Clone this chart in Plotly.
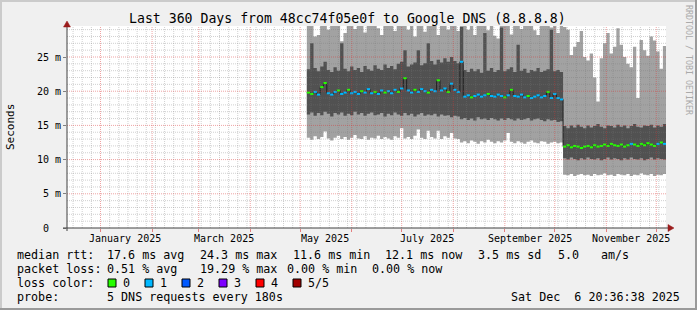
import plotly.graph_objects as go
from datetime import datetime, timedelta

# ---------------- data (ms) ----------------
FIRST_BIN = datetime(2025, 5, 5)   # first consolidated bin
BIN_DAYS = 2
T_END = datetime(2025, 12, 6, 20, 36, 38)
T_START = T_END - timedelta(days=360)

median = [
    19.8, 19.6, 19.9, 19.5, 20.6, 21.2, 19.7, 19.5, 19.9, 20.1,
    19.6, 19.8, 20.2, 19.7, 19.9, 19.6, 20.0, 19.8, 20.3, 19.7,
    19.9, 19.6, 20.1, 19.8, 20.0, 19.7, 20.2, 19.9, 20.4, 21.9,
    20.1, 19.8, 20.2, 19.9, 20.3, 20.0, 19.8, 20.2, 20.0, 21.6,
    20.1, 20.4, 19.9, 21.1, 20.2, 19.9, 24.3, 19.2, 19.4, 19.1,
    19.3, 19.5, 19.2, 19.4, 19.6, 19.3, 19.2, 19.5, 19.3, 19.1,
    19.4, 20.2, 19.3, 19.2, 19.5, 19.1, 19.3, 19.0, 19.2, 19.4,
    19.1, 19.3, 19.9, 19.0, 19.6, 19.0, 18.8, 11.9, 12.1, 11.8,
    12.0, 11.9, 11.7, 11.9, 12.0, 11.8, 12.1, 11.9, 12.0, 12.2,
    12.0, 12.3, 12.1, 12.0, 12.2, 11.9, 12.1, 12.3, 12.2, 12.0,
    12.3, 12.1, 12.4, 12.2, 12.0, 12.3, 12.5, 12.3,
]
loss = [
    0, 0, 1, 1, 0, 0, 1, 1, 1, 0,
    1, 1, 0, 1, 1, 1, 0, 1, 1, 1,
    0, 1, 1, 0, 1, 1, 1, 0, 1, 0,
    1, 1, 0, 1, 1, 1, 0, 1, 1, 0,
    1, 1, 0, 1, 1, 1, 1, 1, 1, 0,
    1, 1, 1, 1, 0, 1, 1, 1, 1, 0,
    1, 0, 1, 1, 1, 1, 0, 1, 1, 1,
    1, 1, 0, 1, 1, 1, 1, 0, 0, 0,
    0, 0, 0, 0, 0, 0, 0, 0, 0, 0,
    0, 0, 0, 0, 0, 0, 0, 1, 0, 0,
    0, 0, 0, 0, 0, 1, 0, 1,
]
p4 = [
    23.2, 27.0, 23.4, 22.9, 23.6, 24.3, 23.1, 22.8, 23.5, 23.0,
    27.0, 23.3, 22.9, 23.6, 23.1, 23.4, 22.8, 23.7, 23.2, 23.0,
    23.8, 23.3, 23.1, 23.9, 23.4, 23.7, 23.2, 24.0, 24.3, 26.0,
    23.6, 23.9, 24.2, 26.0, 23.8, 24.1, 27.0, 24.4, 23.9, 24.6,
    24.2, 24.8, 24.3, 25.0, 24.4, 24.1, 29.4, 23.1, 22.8, 23.3,
    22.9, 23.2, 22.7, 28.5, 23.0, 23.4, 22.8, 23.1, 29.3, 22.9,
    23.2, 23.5, 22.8, 26.8, 23.0, 23.3, 22.7, 23.1, 22.9, 23.4,
    22.8, 23.0, 23.2, 29.0, 22.9, 23.1, 22.8, 14.9, 14.6, 15.0,
    14.7, 15.1, 14.8, 14.6, 15.0, 14.7, 14.9, 15.2, 14.8, 14.6,
    15.0, 14.9, 14.7, 15.1, 14.8, 15.0, 14.6, 14.9, 15.2, 14.8,
    14.7, 15.0, 14.9, 15.1, 14.7, 15.0, 14.8, 15.2,
]
p2 = [
    16.6, 16.9, 16.4, 16.8, 16.5, 17.0, 16.7, 16.3, 16.8, 16.6,
    16.9, 16.4, 16.7, 16.5, 17.0, 16.6, 16.8, 16.4, 16.7, 16.9,
    16.5, 16.6, 16.8, 16.3, 16.7, 16.5, 16.9, 16.6, 16.4, 16.8,
    16.5, 16.7, 16.3, 16.6, 16.8, 16.4, 16.6, 16.5, 16.7, 16.3,
    16.6, 16.4, 16.5, 16.2, 16.4, 16.3, 15.9, 16.1, 15.8, 16.0,
    15.7, 16.2, 15.9, 16.0, 15.8, 16.1, 15.9, 15.7, 16.0, 15.8,
    16.1, 15.9, 15.7, 16.0, 15.8, 15.9, 16.1, 15.7, 15.9, 16.0,
    15.8, 15.6, 15.9, 15.7, 15.8, 15.5, 15.6, 10.2, 10.0, 10.3,
    10.1, 9.9, 10.2, 10.0, 10.3, 10.1, 10.0, 10.2, 9.9, 10.1,
    10.3, 10.0, 10.2, 10.1, 9.9, 10.2, 10.0, 10.3, 10.1, 10.0,
    10.2, 9.9, 10.1, 10.3, 10.0, 10.2, 10.1, 10.0,
]
mins = [
    13.2, 12.9, 13.4, 13.0, 13.3, 14.1, 13.1, 12.8, 13.2, 13.5,
    13.0, 13.3, 12.9, 13.2, 13.6, 13.1, 13.0, 13.4, 12.9, 13.2,
    13.1, 13.5, 13.0, 13.3, 13.1, 12.9, 13.4, 13.2, 14.6, 13.1,
    13.3, 13.0, 13.5, 14.4, 13.2, 13.0, 14.2, 13.3, 13.1, 14.2,
    13.0, 13.4, 13.2, 13.9, 13.1, 13.0, 12.5, 12.7, 12.4, 12.8,
    12.6, 12.3, 12.7, 12.5, 12.9, 12.6, 12.4, 12.7, 12.5, 12.8,
    13.9, 12.6, 12.4, 12.7, 12.5, 12.3, 12.6, 12.8, 12.5, 12.4,
    12.7, 12.6, 12.3, 12.5, 12.6, 12.4, 12.5, 7.8, 7.7, 7.9,
    7.6, 7.8, 7.9, 7.7, 7.8, 7.6, 7.9, 7.7, 7.8, 8.0,
    7.7, 7.8, 7.6, 7.9, 7.8, 7.7, 7.9, 7.6, 7.8, 7.7,
    8.0, 7.8, 7.7, 7.9, 7.6, 7.8, 7.7, 7.9,
]
maxs = [
    29.6, 29.6, 28.0, 28.2, 29.6, 29.6, 29.0, 29.6, 29.6, 29.6,
    27.3, 28.5, 29.6, 29.6, 29.1, 29.6, 29.6, 28.6, 29.6, 29.6,
    29.6, 29.2, 28.2, 29.6, 29.6, 29.6, 28.8, 29.6, 29.6, 29.6,
    29.0, 29.6, 28.0, 29.6, 29.6, 28.7, 29.6, 29.6, 29.6, 28.2,
    29.6, 29.6, 29.0, 29.6, 29.6, 28.8, 29.6, 29.6, 29.0, 29.6,
    28.2, 29.6, 29.6, 29.6, 28.9, 29.6, 28.1, 27.7, 29.6, 29.6,
    29.6, 28.3, 29.6, 29.6, 29.1, 29.6, 29.6, 29.6, 28.9, 28.2,
    29.6, 29.6, 29.6, 29.3, 29.6, 28.5, 29.6, 29.4, 29.0, 25.3,
    26.5, 27.2, 28.8, 25.0, 24.5, 25.5, 22.0, 18.5, 24.8, 27.0,
    28.5, 25.5, 26.5, 29.2, 26.8, 25.0, 24.0, 23.5, 26.5, 19.0,
    27.5, 26.0, 25.2, 28.0, 27.4, 25.8, 23.3, 26.6,
]

y_ticks = [0, 5, 10, 15, 20, 25]
y_ticktext = ["0\u00a0\u00a0", "5 m", "10 m", "15 m", "20 m", "25 m"]
x_label_months = [(2025, 1, "January 2025"), (2025, 3, "March 2025"), (2025, 5, "May 2025"),
                  (2025, 7, "July 2025"), (2025, 9, "September 2025"), (2025, 11, "November 2025")]
loss_colors = ["#26ff00", "#00b8ff", "#0059ff", "#7e00ff", "#ff0000", "#a10000"]
loss_labels = ["0", "1", "2", "3", "4", "5/5"]

# ---------------- geometry ----------------
W, H = 697, 310
ML, MR, MT, MB = 67, 31, 26, 82
PW, PH = W - ML - MR, H - MT - MB
MS_PER_PX = 6.84
Y_TOP = PH / MS_PER_PX
FONT = "DejaVu Sans Mono"


def pxx(x):
    return (x - ML) / PW


def pxy(y):
    return (H - MB - y) / PH


n = len(median)
starts = [FIRST_BIN + timedelta(days=BIN_DAYS * i) for i in range(n)]
edges = starts + [starts[-1] + timedelta(days=BIN_DAYS)]


def stepped(vals):
    return edges, list(vals) + [vals[-1]]


fig = go.Figure()


def band(lo, hi, color):
    x, y = stepped(lo)
    fig.add_trace(go.Scatter(x=x, y=y, mode="lines", line=dict(width=0, shape="hv"),
                             hoverinfo="skip", showlegend=False))
    x, y = stepped(hi)
    fig.add_trace(go.Scatter(x=x, y=y, mode="lines", line=dict(width=0, shape="hv"),
                             fill="tonexty", fillcolor=color, hoverinfo="skip", showlegend=False))


band(mins, maxs, "#a2a2a2")
band(p2, p4, "#515151")

# thin dark median line underneath
x, y = stepped(median)
fig.add_trace(go.Scatter(x=x, y=y, mode="lines", line=dict(width=1, color="#202020", shape="hv"),
                         hoverinfo="skip", showlegend=False))

# coloured median dashes by loss (one horizontal dash per bin)
for L, col in enumerate(loss_colors):
    xs, ys = [], []
    for k in range(n):
        if loss[k] == L:
            xs += [starts[k], edges[k + 1], None]
            ys += [median[k], median[k], None]
    if xs:
        fig.add_trace(go.Scatter(x=xs, y=ys, mode="lines", line=dict(width=2, color=col),
                                 connectgaps=False, hoverinfo="skip", showlegend=False))

shapes = []
MINOR = dict(color="rgba(120,120,120,0.35)", width=1, dash="1px,1px")
MAJOR = dict(color="rgba(220,50,50,0.45)", width=1, dash="1px,1px")

month_starts = [datetime(2025, m, 1) for m in range(1, 13)]
MINOR_STEP = timedelta(hours=132)
anchor = datetime(2025, 1, 1)
g = anchor
while g - MINOR_STEP > T_START:
    g -= MINOR_STEP
while g < T_END:
    if all(abs((g - m).total_seconds()) > 86400 for m in month_starts):
        shapes.append(dict(type="line", xref="x", yref="paper", x0=g, x1=g, y0=0, y1=1,
                           line=MINOR, layer="above"))
    g += MINOR_STEP
for v in range(1, 30):
    if v % 5:
        shapes.append(dict(type="line", xref="paper", yref="y", x0=0, x1=1, y0=v, y1=v,
                           line=MINOR, layer="above"))
for d in month_starts:
    shapes.append(dict(type="line", xref="x", yref="paper", x0=d, x1=d, y0=0, y1=1,
                       line=MAJOR, layer="above"))
for v in y_ticks[1:]:
    shapes.append(dict(type="line", xref="paper", yref="y", x0=0, x1=1, y0=v, y1=v,
                       line=MAJOR, layer="above"))

# axes lines + arrows
AX = "#404040"
ARROW = "#9b1c1c"
shapes.append(dict(type="line", xref="paper", yref="paper", x0=pxx(63), x1=pxx(668),
                   y0=pxy(228), y1=pxy(228), line=dict(color=AX, width=1), layer="above"))
shapes.append(dict(type="line", xref="paper", yref="paper", x0=pxx(67), x1=pxx(67),
                   y0=pxy(231), y1=pxy(25), line=dict(color=AX, width=1), layer="above"))


def tri(pts, color):
    p = "M " + " L ".join(f"{pxx(a):.5f},{pxy(b):.5f}" for a, b in pts) + " Z"
    return dict(type="path", xref="paper", yref="paper", path=p, fillcolor=color,
                line=dict(color=color, width=0.5), layer="above")


shapes.append(tri([(63.5, 27), (70.5, 27), (67, 21)], ARROW))
shapes.append(tri([(668, 224.5), (668, 231.5), (674, 228)], ARROW))

# frame shading
shapes.append(dict(type="rect", xref="paper", yref="paper", x0=pxx(0), x1=pxx(W), y0=pxy(0), y1=pxy(2),
                   fillcolor="#cbcbcb", line=dict(width=0)))
shapes.append(dict(type="rect", xref="paper", yref="paper", x0=pxx(0), x1=pxx(2), y0=pxy(0), y1=pxy(H),
                   fillcolor="#cbcbcb", line=dict(width=0)))
shapes.append(dict(type="rect", xref="paper", yref="paper", x0=pxx(0), x1=pxx(W), y0=pxy(H - 2), y1=pxy(H),
                   fillcolor="#9a9a9a", line=dict(width=0)))
shapes.append(dict(type="rect", xref="paper", yref="paper", x0=pxx(W - 2), x1=pxx(W), y0=pxy(0), y1=pxy(H),
                   fillcolor="#9a9a9a", line=dict(width=0)))

# legend boxes
for k, col in enumerate(loss_colors):
    x0 = 108 + 37 * k
    shapes.append(dict(type="rect", xref="paper", yref="paper", x0=pxx(x0), x1=pxx(x0 + 8),
                       y0=pxy(287), y1=pxy(279), fillcolor=col, line=dict(color="#000000", width=1)))

ann = []


def text(x, y, s, size=11.7, anchor="left", color="#000000", angle=0, xref="paper"):
    ann.append(dict(x=(pxx(x) if xref == "paper" else x), y=pxy(y), xref=xref, yref="paper",
                    text=s, showarrow=False, xanchor=anchor, yanchor="middle", textangle=angle,
                    borderpad=0, font=dict(family=FONT, size=size, color=color)))


text(347, 19, "Last 360 Days from 48cc74f05e0f to Google DNS (8.8.8.8)", size=13.2, anchor="center")
text(689, 60, "RRDTOOL / TOBI OETIKER", size=8.3, anchor="center", color="#aaaaaa", angle=90)
text(10, 127, "Seconds", size=11, anchor="center", angle=-90)

for yy, mo, lab in x_label_months:
    text(datetime(yy, mo, 1) + timedelta(days=15), 238.5, lab, size=10, anchor="center", xref="x")

row1 = [(16, "median rtt:"), (106, "17.6 ms avg"), (199, "24.3 ms max"), (292, "11.6 ms min"),
        (384, "12.1 ms now"), (477, "3.5 ms sd"), (557, "5.0"), (600, "am/s")]
row2 = [(16, "packet loss:"), (106, "0.51 % avg"), (199, "19.29 % max"), (286, "0.00 % min"),
        (371, "0.00 % now")]
for x0, s in row1:
    text(x0, 255, s)
for x0, s in row2:
    text(x0, 269, s)
text(16, 283, "loss color:")
for k, lab in enumerate(loss_labels):
    text(122 + 37 * k, 283, lab)
text(16, 297, "probe:")
text(106, 297, "5 DNS requests every 180s")
text(681, 297, "Sat Dec\u00a0 6 20:36:38 2025", anchor="right")

fig.update_layout(
    width=W, height=H,
    margin=dict(l=ML, r=MR, t=MT, b=MB, pad=0),
    paper_bgcolor="#f0f0f0", plot_bgcolor="#ffffff",
    showlegend=False, hovermode=False,
    font=dict(family=FONT, size=10, color="#000000"),
    shapes=shapes, annotations=ann,
    xaxis=dict(type="date", range=[T_START, T_END], showgrid=False, zeroline=False,
               showticklabels=False, tickvals=month_starts, ticks="outside", ticklen=3,
               tickcolor="rgba(220,50,50,0.6)", showline=False, fixedrange=True),
    yaxis=dict(range=[0, Y_TOP], showgrid=False, zeroline=False, tickvals=y_ticks,
               ticktext=y_ticktext, ticks="outside", ticklen=3, tickcolor="#808080",
               tickfont=dict(family=FONT, size=10, color="#000000"), showline=False,
               fixedrange=True),
)

fig.write_html("out.html", config={"displayModeBar": False, "staticPlot": True})
